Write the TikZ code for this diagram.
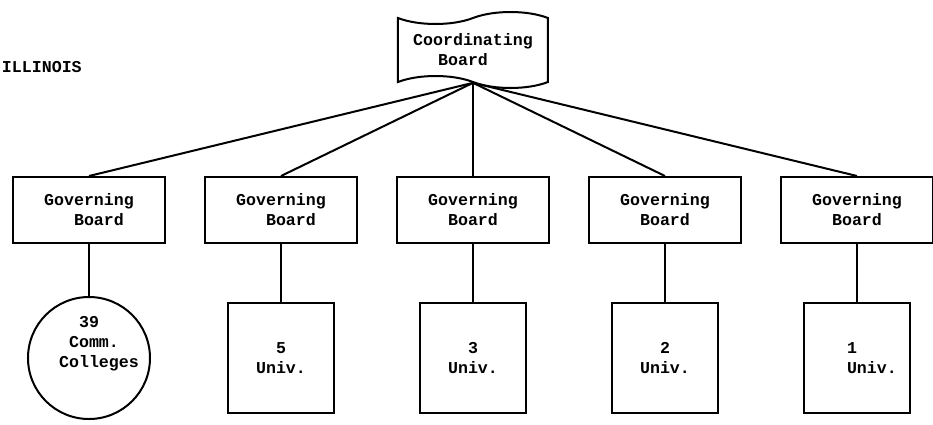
\documentclass[tikz,border=0pt]{standalone}
\usepackage{fontspec}
\setmonofont{Liberation Mono}
\usepackage{tikz}
\usetikzlibrary{trees,shapes}

\begin{document}
\begin{tikzpicture}
[grow = down, level distance=80pt, line width=1pt]
\tikzset{
	every node/.style = {font=\ttfamily\bfseries\fontsize{8.3}{10}\selectfont},
	coord/.style = {tape, draw, minimum width=75pt, minimum height=38pt, tape bend height=6pt, tape bend bottom=out and in, align=center},
	govern/.style = {rectangle, draw, minimum width=76pt, minimum height=33pt, align=center},
	univ/.style = {rectangle, draw, minimum width=53pt, minimum height=55pt, align=center},
	college/.style = {circle, draw, minimum size=61pt},
	level 1/.style = {sibling distance=96pt},
	level 2/.style = {level distance=74pt},
	edge from parent path = {(\tikzparentnode.south) -- (\tikzchildnode.north)}
}

\useasboundingbox (-236.5pt,-187pt) rectangle (230pt,25pt);

\node (state) [anchor=west, inner sep=0pt] at (-236pt,-8.5pt) {ILLINOIS};

\node(0) [coord] {Coordinating\\Board\phantom{GG}}
	child{
		node [govern] {Governing\\\phantom{GG}Board}
		child{
			node [college, label={[align=left, xshift=5pt, yshift=7pt]center:\phantom{GG}39\\\phantom{G}Comm.\\Colleges}] {}
		}
	}
	child{
		node [govern] {Governing\\\phantom{GG}Board}
		child{
			node [univ] {5\\Univ.}
		}
	}
	child{
		node [govern] {Governing\\Board}
		child{
			node [univ] {3\\Univ.}
		}
	}
	child{
		node [govern] {Governing\\Board}
		child{
			node [univ] {2\\Univ.}
		}
	}
	child{
		node [govern] {Governing\\Board}
		child{
			node [univ, align=left] {\phantom{GGG}1\\\phantom{GGG}Univ.}
		}
	}
;

\end{tikzpicture}
\end{document}
